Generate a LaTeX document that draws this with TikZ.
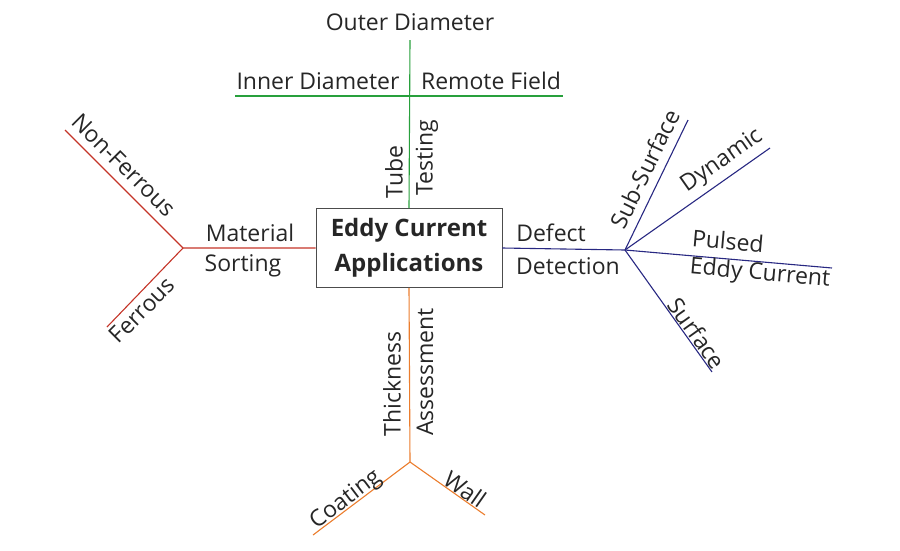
\documentclass[tikz,border=0pt]{standalone}
\usepackage{fontspec}
\setmainfont{Open Sans}
\begin{document}
\begin{tikzpicture}[x=1pt,y=-1pt,
  lbl/.style={font=\fontsize{23}{25}\selectfont,text=black!85,inner sep=1pt},
  ln/.style={line width=1.1pt}]
\definecolor{cR}{RGB}{196,52,40}
\definecolor{cG}{RGB}{40,160,60}
\definecolor{cB}{RGB}{40,40,130}
\definecolor{cO}{RGB}{235,125,45}
\useasboundingbox (0,0) rectangle (900,550);
\node[draw=black!70,line width=0.8pt,minimum width=186pt,minimum height=79pt,align=center,
  font=\bfseries\fontsize{24}{35}\selectfont,text=black!85,inner sep=2pt] (box) at (409,248) {Eddy Current\\Applications};
% green
\coordinate (gt) at (410,40); \coordinate (gm) at (410,96);
\coordinate (gl) at (235,96); \coordinate (gr) at (563,96);
\draw[ln,cG] (box.north) -- (gt); \draw[ln,cG] (gl) -- (gr);
\node[lbl] (od) at (410,22) {Outer Diameter};
\node[lbl] (id) at (318,81) {Inner Diameter};
\node[lbl] (rf) at (491,81) {Remote Field};
\node[lbl,rotate=90] (tu) at (394,172) {Tube};
\node[lbl,rotate=90] (te) at (427,158) {Testing};
% red
\coordinate (rj) at (183,248); \coordinate (ru) at (65,130); \coordinate (rd) at (107,327);
\draw[ln,cR] (box.west) -- (rj) -- (ru); \draw[ln,cR] (rj) -- (rd);
\node[lbl] (ma) at (250,233) {Material};
\node[lbl] (so) at (243,266) {Sorting};
\node[lbl,rotate=-45] (nf) at (124,165) {Non-Ferrous};
\node[lbl,rotate=45] (fe) at (142,310) {Ferrous};
% blue
\coordinate (bj) at (625,250);
\coordinate (b1) at (688,120); \coordinate (b2) at (770,148);
\coordinate (b3) at (832,268); \coordinate (b4) at (712,372);
\draw[ln,cB] (box.east) -- (bj) -- (b1); \draw[ln,cB] (bj) -- (b2);
\draw[ln,cB] (bj) -- (b3); \draw[ln,cB] (bj) -- (b4);
\node[lbl] (de) at (551,233) {Defect};
\node[lbl] (dt) at (568,266) {Detection};
\node[lbl,rotate=64] (ss) at (645,169) {Sub-Surface};
\node[lbl,rotate=35] (dy) at (722,161) {Dynamic};
\node[lbl,rotate=-5] (pu) at (728,241) {Pulsed};
\node[lbl,rotate=-5] (ec) at (760,274) {Eddy Current};
\node[lbl,rotate=-54.5] (su) at (697,333) {Surface};
% orange
\coordinate (oj) at (410,462); \coordinate (o1) at (313,535); \coordinate (o2) at (485,515);
\draw[ln,cO] (box.south) -- (oj) -- (o1); \draw[ln,cO] (oj) -- (o2);
\node[lbl,rotate=90] (th) at (392,384) {Thickness};
\node[lbl,rotate=90] (as) at (425,372) {Assessment};
\node[lbl,rotate=37] (co) at (346,500) {Coating};
\node[lbl,rotate=-35] (wa) at (465,489) {Wall};
\end{tikzpicture}
\end{document}
